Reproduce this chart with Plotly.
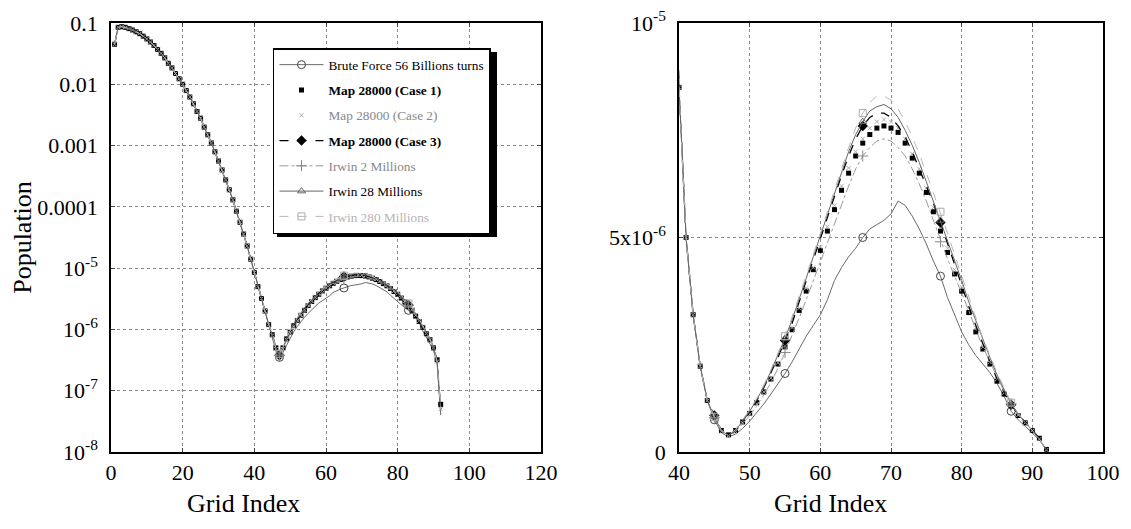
import plotly.graph_objects as go

# ---------------- data ----------------
grid_index = list(range(1, 93))

# common part of all curves, grid index 1..39
common_head = [0.045, 0.085, 0.087, 0.085, 0.081, 0.077, 0.072, 0.067, 0.061, 0.055,
               0.049, 0.043, 0.037, 0.032, 0.027, 0.022, 0.0185, 0.015, 0.0123, 0.01,
               0.0079, 0.0062, 0.0048, 0.0036, 0.0028, 0.0020, 0.0015, 0.0011, 7.9e-4, 5.6e-4,
               4.0e-4, 2.75e-4, 1.9e-4, 1.3e-4, 8.5e-5, 5.6e-5, 3.6e-5, 2.3e-5, 1.4e-5]

# grid index 40..92, in units of 1e-6
brute_tail = [8.5, 5.0, 3.2, 2.0, 1.2, 0.75, 0.45, 0.35, 0.42, 0.55, 0.72, 0.92, 1.12, 1.35, 1.58,
              1.83, 2.1, 2.4, 2.7, 2.95, 3.2, 3.55, 4.0, 4.3, 4.55, 4.75, 5.0, 5.2, 5.3, 5.4,
              5.55, 5.85, 5.75, 5.5, 5.2, 4.85, 4.45, 4.1, 3.6, 3.2, 2.8, 2.5, 2.25, 2.05, 1.85,
              1.6, 1.3, 0.95, 0.75, 0.6, 0.45, 0.28, 0.04]
case1_tail = [8.5, 5.0, 3.2, 2.0, 1.2, 0.82, 0.5, 0.4, 0.5, 0.7, 0.9, 1.15, 1.4, 1.7, 2.05,
              2.45, 2.85, 3.3, 3.75, 4.25, 4.7, 5.15, 5.65, 6.1, 6.5, 6.9, 7.2, 7.4, 7.55, 7.6,
              7.55, 7.45, 7.2, 6.85, 6.5, 6.05, 5.6, 5.15, 4.65, 4.15, 3.75, 3.25, 2.8, 2.4, 2.05,
              1.65, 1.35, 1.08, 0.85, 0.68, 0.5, 0.32, 0.06]
case2_tail = [8.5, 5.0, 3.2, 2.0, 1.2, 0.8, 0.48, 0.38, 0.48, 0.68, 0.88, 1.12, 1.4, 1.72, 2.08,
              2.48, 2.9, 3.35, 3.82, 4.3, 4.78, 5.25, 5.75, 6.2, 6.62, 7.0, 7.3, 7.55, 7.7, 7.75,
              7.7, 7.55, 7.3, 6.95, 6.6, 6.15, 5.7, 5.25, 4.75, 4.25, 3.85, 3.35, 2.9, 2.45, 2.1,
              1.7, 1.38, 1.1, 0.86, 0.68, 0.5, 0.3, 0.05]
case3_tail = [8.5, 5.0, 3.2, 2.0, 1.2, 0.85, 0.5, 0.38, 0.5, 0.72, 0.95, 1.2, 1.5, 1.85, 2.2,
              2.6, 3.0, 3.5, 4.0, 4.5, 5.0, 5.5, 6.0, 6.45, 6.9, 7.3, 7.6, 7.8, 7.9, 7.9,
              7.8, 7.6, 7.35, 7.0, 6.6, 6.2, 5.8, 5.35, 4.85, 4.35, 3.9, 3.4, 2.95, 2.5, 2.1,
              1.7, 1.4, 1.1, 0.88, 0.7, 0.5, 0.32, 0.05]
irwin2_tail = [8.5, 5.0, 3.2, 2.0, 1.2, 0.8, 0.48, 0.38, 0.47, 0.65, 0.85, 1.08, 1.33, 1.62, 1.95,
               2.32, 2.7, 3.12, 3.55, 4.0, 4.45, 4.9, 5.35, 5.8, 6.2, 6.6, 6.9, 7.1, 7.25, 7.3,
               7.25, 7.1, 6.9, 6.6, 6.25, 5.85, 5.4, 4.9, 4.5, 4.1, 3.7, 3.3, 2.85, 2.45, 2.1,
               1.75, 1.42, 1.12, 0.88, 0.7, 0.5, 0.3, 0.05]
irwin28_tail = [8.5, 5.0, 3.2, 2.0, 1.2, 0.82, 0.5, 0.38, 0.5, 0.72, 0.95, 1.22, 1.52, 1.88, 2.25,
                2.65, 3.08, 3.55, 4.05, 4.55, 5.05, 5.55, 6.05, 6.55, 7.0, 7.4, 7.7, 7.95, 8.05, 8.1,
                8.0, 7.8, 7.5, 7.15, 6.75, 6.3, 5.85, 5.4, 4.9, 4.45, 4.0, 3.5, 3.05, 2.6, 2.2,
                1.8, 1.45, 1.12, 0.88, 0.7, 0.5, 0.3, 0.05]
irwin280_tail = [8.5, 5.0, 3.2, 2.0, 1.2, 0.82, 0.5, 0.4, 0.52, 0.74, 0.98, 1.25, 1.56, 1.92, 2.3,
                 2.7, 3.15, 3.62, 4.1, 4.6, 5.1, 5.6, 6.12, 6.62, 7.1, 7.55, 7.9, 8.15, 8.3, 8.3,
                 8.2, 8.0, 7.7, 7.35, 6.95, 6.5, 6.05, 5.6, 5.1, 4.6, 4.1, 3.6, 3.1, 2.65, 2.25,
                 1.85, 1.5, 1.15, 0.9, 0.7, 0.5, 0.3, 0.05]

series_names = ["Brute Force 56 Billions turns", "Map 28000 (Case 1)", "Map 28000 (Case 2)",
                "Map 28000 (Case 3)", "Irwin 2 Millions", "Irwin 28 Millions", "Irwin 280 Millions"]
series_tails = [brute_tail, case1_tail, case2_tail, case3_tail, irwin2_tail, irwin28_tail, irwin280_tail]

left_xticks = [0, 20, 40, 60, 80, 100, 120]
left_ytickvals = [0.1, 0.01, 0.001, 0.0001, 1e-5, 1e-6, 1e-7, 1e-8]
left_yticktext = ["0.1", "0.01", "0.001", "0.0001", "10<sup>-5</sup>", "10<sup>-6</sup>",
                  "10<sup>-7</sup>", "10<sup>-8</sup>"]
right_xticks = [40, 50, 60, 70, 80, 90, 100]
right_ytickvals = [0, 5e-6, 1e-5]
right_yticktext = ["0", "5x10<sup>-6</sup>", "10<sup>-5</sup>"]
x_title = "Grid Index"
y_title = "Population"

# ---------------- styles ----------------
FONT = "Liberation Serif, Times New Roman, serif"
styles = [
    dict(line=dict(color="#6a6a6a", width=1, dash="solid"), mode="lines",
         marker=dict(symbol="circle-open", size=8, color="#444444", line=dict(width=1)),
         label="Brute Force 56 Billions turns"),
    dict(line=None, mode="markers",
         marker=dict(symbol="square", size=5, color="#000000"),
         label="<b>Map 28000 (Case 1)</b>"),
    dict(line=None, mode="markers",
         marker=dict(symbol="x-thin-open", size=4, color="#aaaaaa", line=dict(width=1, color="#aaaaaa")),
         label="<span style='color:#888888'>Map 28000 (Case 2)</span>"),
    dict(line=dict(color="#000000", width=1.3, dash="dash"), mode="lines",
         marker=dict(symbol="diamond", size=8, color="#000000"),
         label="<b>Map 28000 (Case 3)</b>"),
    dict(line=dict(color="#9a9a9a", width=1, dash="dashdot"), mode="lines",
         marker=dict(symbol="cross-thin-open", size=8, color="#888888", line=dict(width=1, color="#888888")),
         label="<span style='color:#888888'>Irwin 2 Millions</span>"),
    dict(line=dict(color="#666666", width=1, dash="solid"), mode="lines",
         marker=dict(symbol="triangle-up-open", size=7, color="#666666", line=dict(width=1)),
         label="Irwin 28 Millions"),
    dict(line=dict(color="#b8b8b8", width=1, dash="dash"), mode="lines",
         marker=dict(symbol="square-open", size=7, color="#aaaaaa", line=dict(width=1)),
         label="<span style='color:#b5b5b5'>Irwin 280 Millions</span>"),
]
left_marks = [47, 65, 83]
right_marks = [45, 55, 66, 77, 87]

fig = go.Figure()

# legend-only entries
for i, (name, st) in enumerate(zip(series_names, styles)):
    if st["mode"] == "markers":
        fig.add_trace(go.Scatter(x=[None], y=[None], mode="markers", marker=st["marker"],
                                 name=st["label"], legendgroup=f"g{i}", xaxis="x", yaxis="y"))
    else:
        fig.add_trace(go.Scatter(x=[None], y=[None], mode="lines+markers", line=st["line"],
                                 marker=st["marker"], name=st["label"], legendgroup=f"g{i}",
                                 xaxis="x", yaxis="y"))

for i, (name, tail, st) in enumerate(zip(series_names, series_tails, styles)):
    values = common_head + [v * 1e-6 for v in tail]
    for ax, yax, marks in (("x", "y", left_marks), ("x2", "y2", right_marks)):
        if st["mode"] == "markers":
            fig.add_trace(go.Scatter(x=grid_index, y=values, mode="markers", marker=st["marker"],
                                     showlegend=False, xaxis=ax, yaxis=yax, hoverinfo="skip"))
        else:
            fig.add_trace(go.Scatter(x=grid_index, y=values, mode="lines", line=st["line"],
                                     showlegend=False, xaxis=ax, yaxis=yax, hoverinfo="skip"))
            mx = [x for x in grid_index if x in marks]
            my = [values[grid_index.index(x)] for x in mx]
            fig.add_trace(go.Scatter(x=mx, y=my, mode="markers", marker=st["marker"],
                                     showlegend=False, xaxis=ax, yaxis=yax, hoverinfo="skip"))

axis_common = dict(showline=True, linecolor="#000000", linewidth=1.5, mirror="ticks",
                   ticks="inside", ticklen=4, tickcolor="#444444", automargin=False,
                   ticklabeloverflow="allow",
                   showgrid=True, gridcolor="#8a8a8a", griddash="dot", gridwidth=1,
                   zeroline=False, tickfont=dict(family=FONT, size=22, color="#000000"))

fig.update_layout(
    width=1131, height=529,
    paper_bgcolor="white", plot_bgcolor="white",
    margin=dict(l=103, r=36, t=15, b=85),
    font=dict(family=FONT, color="#000000"),
    xaxis=dict(domain=[0, 0.4335], range=[0, 120], tickvals=left_xticks, **axis_common),
    yaxis=dict(type="log", range=[-8, -1], tickvals=left_ytickvals, ticktext=left_yticktext,
               ticklabelstandoff=7,
               title=dict(text=y_title, font=dict(family=FONT, size=26), standoff=6),
               **axis_common),
    xaxis2=dict(domain=[0.5726, 1], range=[40, 100], tickvals=right_xticks, anchor="y2",
                **axis_common),
    yaxis2=dict(range=[0, 1e-5], tickvals=right_ytickvals, ticktext=right_yticktext, anchor="x2",
                ticklabelstandoff=7, **axis_common),
    legend=dict(x=0.1633, y=0.9417, xanchor="left", yanchor="top",
                bgcolor="white", bordercolor="#000000", borderwidth=1.5,
                font=dict(family=FONT, size=13.3, color="#000000"),
                itemwidth=44, tracegroupgap=5),
    shapes=[dict(type="rect", xref="paper", yref="paper", x0=0.1673, x1=0.3891,
                 y0=0.5012, y1=0.9324, fillcolor="#000000", line=dict(width=0), layer="above")],
    annotations=[
        dict(text=x_title, xref="paper", yref="paper", x=0.134, y=-0.119, showarrow=False,
             xanchor="center", yanchor="middle", font=dict(family=FONT, size=26)),
        dict(text=x_title, xref="paper", yref="paper", x=0.7248, y=-0.119, showarrow=False,
             xanchor="center", yanchor="middle", font=dict(family=FONT, size=26)),
    ],
)

fig.write_html("out.html")
